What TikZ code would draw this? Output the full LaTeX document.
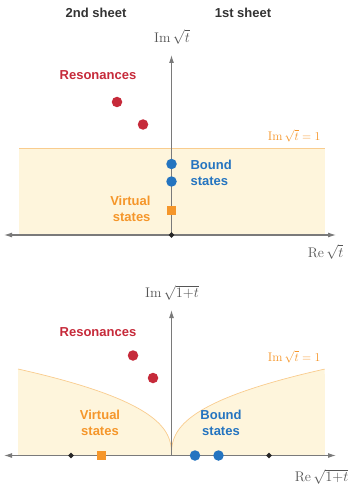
\documentclass[tikz,border=0pt]{standalone}
\usepackage{fontspec}
\setsansfont{Liberation Sans}
\usetikzlibrary{arrows.meta,shapes.geometric}
\definecolor{ored}{HTML}{C62A3A}
\definecolor{oblue}{HTML}{2474C0}
\definecolor{oorange}{HTML}{F5962A}
\definecolor{ofill}{HTML}{FEF5DC}
\definecolor{oedge}{HTML}{F9CC8E}
\definecolor{oaxis}{HTML}{7A7A7A}
\definecolor{otext}{HTML}{333333}
\definecolor{omath}{HTML}{555555}
\begin{document}
\begin{tikzpicture}[x=1pt,y=-1pt,
  axisline/.style={draw=oaxis,line width=1.1pt},
  tiptop/.style={-{Latex[length=8pt,width=5pt]}},
  tipboth/.style={{Latex[length=8pt,width=5pt]}-{Latex[length=8pt,width=5pt]}},
  sheetlbl/.style={font=\sffamily\bfseries\fontsize{13}{15}\selectfont,text=otext},
  redlbl/.style={font=\sffamily\bfseries\fontsize{13}{15}\selectfont,text=ored},
  bluelbl/.style={font=\sffamily\bfseries\fontsize{13}{16}\selectfont,text=oblue,align=left},
  orglbl/.style={font=\sffamily\bfseries\fontsize{13}{16}\selectfont,text=oorange},
  mathlbl/.style={font=\fontsize{14}{16}\selectfont,text=omath},
  orgmath/.style={font=\fontsize{12.5}{14}\selectfont,text=oorange},
  rdot/.style={circle,fill=ored,minimum size=10.5pt,inner sep=0pt},
  bdot/.style={circle,fill=oblue,minimum size=10.5pt,inner sep=0pt},
  osq/.style={rectangle,fill=oorange,minimum size=9pt,inner sep=0pt},
  kdia/.style={diamond,fill=black!85,minimum size=6pt,inner sep=0pt},
  region/.style={fill=ofill},
  regionedge/.style={draw=oedge,line width=0.7pt}
]
\useasboundingbox (0,0) rectangle (353,484);

% sheet headings
\node[sheetlbl] (s2) at (96,13) {2nd sheet};
\node[sheetlbl] (s1) at (243,13) {1st sheet};

% ---------- top panel ----------
\fill[region] (19,148) rectangle (325,235);
\draw[regionedge] (19,148) -- (325,148);
\node[orgmath,anchor=east] (lim1) at (324,136) {$\mathrm{Im}\,\sqrt{t}=1$};

\coordinate (o1) at (171.5,235);
\coordinate (yt1) at (171.5,55);
\coordinate (xl1) at (4,235);
\coordinate (xr1) at (336,235);
\draw[axisline,tiptop] (o1) -- (yt1);
\draw[axisline,tipboth] (xl1) -- (xr1);
\node[kdia] (d0) at (o1) {};

\node[mathlbl] (im1) at (172,37) {$\mathrm{Im}\,\sqrt{t}$};
\node[mathlbl,anchor=east] (re1) at (347,252) {$\mathrm{Re}\,\sqrt{t}$};

\node[redlbl] (res1) at (98,75) {Resonances};
\node[rdot] (r1) at (117,102) {};
\node[rdot] (r2) at (143,124.5) {};

\node[bdot] (b1) at (171.5,164) {};
\node[bdot] (b2) at (171.5,181.5) {};
\node[bluelbl,anchor=west] (bl1) at (187,173) {Bound\\states};

\node[osq] (v1) at (171.5,210) {};
\node[orglbl,anchor=east,align=right] (vl1) at (154,209) {Virtual\\states};

% ---------- bottom panel ----------
\fill[region] (18,455) -- (18,369)
  -- plot[domain=1:0,samples=60,smooth] ({171.5-153.5*\x*\x*sqrt(\x)},{455-86*\x})
  -- plot[domain=0:1,samples=60,smooth] ({171.5+153.5*\x*\x*sqrt(\x)},{455-86*\x})
  -- (325,455) -- cycle;
\draw[regionedge] plot[domain=1:0,samples=60,smooth] ({171.5-153.5*\x*\x*sqrt(\x)},{455-86*\x});
\draw[regionedge] plot[domain=0:1,samples=60,smooth] ({171.5+153.5*\x*\x*sqrt(\x)},{455-86*\x});
\node[orgmath,anchor=east] (lim2) at (324,357) {$\mathrm{Im}\,\sqrt{t}=1$};

\coordinate (o2) at (171.5,455.5);
\coordinate (yt2) at (171.5,310);
\coordinate (xl2) at (4,455.5);
\coordinate (xr2) at (336,455.5);
\draw[axisline,tiptop] (o2) -- (yt2);
\draw[axisline,tipboth] (xl2) -- (xr2);

\node[mathlbl] (im2) at (172,293) {$\mathrm{Im}\,\sqrt{1{+}t}$};
\node[mathlbl,anchor=east] (re2) at (352,477) {$\mathrm{Re}\,\sqrt{1{+}t}$};

\node[redlbl] (res2) at (98,332) {Resonances};
\node[rdot] (r3) at (133,355.5) {};
\node[rdot] (r4) at (153,378) {};

\node[kdia] (d1) at (71,455.5) {};
\node[kdia] (d2) at (269,455.5) {};
\node[osq] (v2) at (101.5,455.5) {};
\node[bdot] (b3) at (195,455.5) {};
\node[bdot] (b4) at (218.5,455.5) {};

\node[orglbl,align=center] (vl2) at (100,422.5) {Virtual\\states};
\node[bluelbl,align=center] (bl2) at (221,422.5) {Bound\\states};
\end{tikzpicture}
\end{document}
